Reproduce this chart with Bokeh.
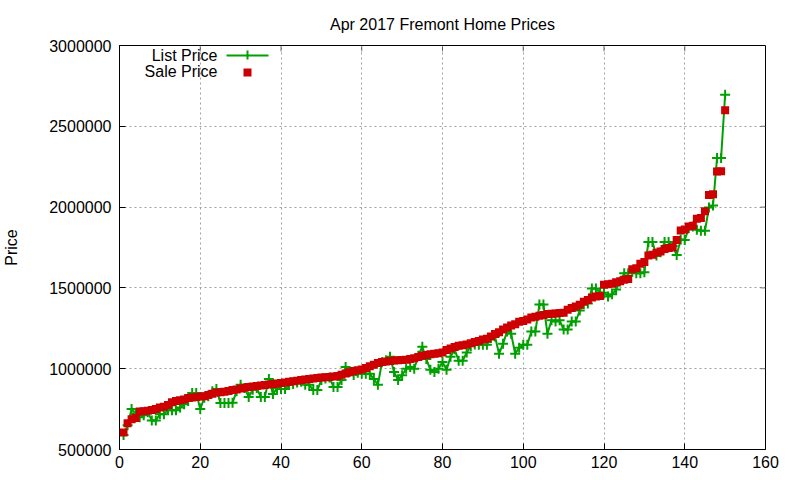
from bokeh.plotting import figure
from bokeh.models import (ColumnDataSource, FixedTicker, Label,
                          BoxAnnotation, Range1d, NumeralTickFormatter)
from bokeh.embed import file_html
from bokeh.resources import INLINE

TITLE = "Apr 2017 Fremont Home Prices"
Y_LABEL = "Price"
SERIES_NAMES = ["List Price", "Sale Price"]
X_TICKS = [0, 20, 40, 60, 80, 100, 120, 140, 160]
Y_TICKS = [500000, 1000000, 1500000, 2000000, 2500000, 3000000]

home_index = list(range(1, 151))

sale_price = [
    605000, 662000, 687000, 695000, 735000, 737000, 740000, 745000, 750000, 760000,
    765000, 775000, 793000, 800000, 805000, 810000, 818000, 822000, 825000, 828000,
    830000, 838000, 845000, 852000, 855000, 858000, 862000, 868000, 872000, 878000,
    882000, 886000, 890000, 893000, 896000, 899000, 902000, 905000, 908000, 911000,
    915000, 920000, 923000, 926000, 930000, 933000, 937000, 940000, 942000, 945000,
    947000, 949000, 952000, 955000, 962000, 970000, 978000, 985000, 990000, 995000,
    1005000, 1015000, 1025000, 1035000, 1042000, 1045000, 1048000, 1050000, 1052000, 1054000,
    1056000, 1060000, 1065000, 1072000, 1080000, 1085000, 1090000, 1092000, 1095000, 1100000,
    1115000, 1125000, 1135000, 1142000, 1145000, 1150000, 1158000, 1165000, 1172000, 1180000,
    1185000, 1200000, 1215000, 1225000, 1242000, 1255000, 1267000, 1275000, 1290000, 1295000,
    1305000, 1317000, 1322000, 1328000, 1332000, 1338000, 1340000, 1342000, 1344000, 1346000,
    1365000, 1375000, 1385000, 1395000, 1415000, 1425000, 1440000, 1447000, 1450000, 1520000,
    1522000, 1525000, 1535000, 1541000, 1550000, 1555000, 1615000, 1622000, 1650000, 1660000,
    1700000, 1705000, 1718000, 1725000, 1740000, 1747000, 1750000, 1797000, 1855000, 1862000,
    1880000, 1885000, 1928000, 1932000, 1975000, 2075000, 2080000, 2220000, 2222000, 2600000,
]

list_price = [
    590000, 650000, 750000, 720000, 700000, 712000, 730000, 680000, 680000, 720000,
    718000, 745000, 743000, 743000, 760000, 780000, 800000, 850000, 850000, 750000,
    820000, 830000, 860000, 874000, 787000, 787000, 787000, 790000, 860000, 900000,
    880000, 825000, 870000, 880000, 825000, 825000, 937000, 843000, 880000, 874000,
    874000, 900000, 905000, 915000, 920000, 900000, 900000, 868000, 868000, 930000,
    940000, 945000, 887000, 887000, 930000, 1011000, 980000, 961000, 975000, 968000,
    968000, 968000, 936000, 900000, 1040000, 1050000, 1074000, 980000, 930000, 960000,
    1000000, 1010000, 1000000, 1080000, 1136000, 1060000, 993000, 980000, 1000000, 1042000,
    993000, 1074000, 1120000, 1049000, 1049000, 1100000, 1140000, 1150000, 1148000, 1148000,
    1148000, 1190000, 1200000, 1092000, 1155000, 1230000, 1217000, 1092000, 1130000, 1148000,
    1148000, 1230000, 1230000, 1397000, 1397000, 1217000, 1300000, 1292000, 1300000, 1242000,
    1242000, 1292000, 1292000, 1360000, 1400000, 1404000, 1497000, 1497000, 1470000, 1470000,
    1447000, 1460000, 1490000, 1540000, 1590000, 1590000, 1600000, 1590000, 1590000, 1597000,
    1784000, 1784000, 1700000, 1720000, 1784000, 1784000, 1760000, 1703000, 1800000, 1797000,
    1870000, 1880000, 1860000, 1853000, 1853000, 1998000, 2010000, 2304000, 2304000, 2695000,
]

GREEN = "#00a000"
RED = "#cc0000"
FONT = "Liberation Sans"
FS = "16px"

FRAME_W = 647
FRAME_H = 404

src = ColumnDataSource(dict(x=home_index, lp=list_price, sp=sale_price))

p = figure(width=792, height=472, output_backend="svg", toolbar_location=None,
           x_range=Range1d(X_TICKS[0], X_TICKS[-1]),
           y_range=Range1d(Y_TICKS[0], Y_TICKS[-1]),
           min_border_left=118, min_border_right=792 - 118 - FRAME_W,
           min_border_top=45, min_border_bottom=472 - 45 - FRAME_H)
p.background_fill_color = "white"
p.border_fill_color = "white"
p.outline_line_color = "black"
p.outline_line_width = 1

p.title.text = TITLE
p.title.align = "center"
p.title.text_font = FONT
p.title.text_font_size = FS
p.title.text_font_style = "normal"
p.title.text_color = "black"
p.title.standoff = 25

for ax in (p.xaxis[0], p.yaxis[0]):
    ax.major_tick_in = 6
    ax.major_tick_out = 0
    ax.minor_tick_line_color = None
    ax.axis_line_color = "black"
    ax.major_tick_line_color = "black"
    ax.major_label_text_font = FONT
    ax.major_label_text_font_size = FS
    ax.major_label_text_color = "black"

p.xaxis[0].ticker = FixedTicker(ticks=X_TICKS)
p.yaxis[0].ticker = FixedTicker(ticks=Y_TICKS)
p.yaxis[0].formatter = NumeralTickFormatter(format="0")
p.xaxis[0].major_label_standoff = 6
p.yaxis[0].major_label_standoff = 8
p.yaxis[0].axis_label = Y_LABEL
p.yaxis[0].axis_label_text_font = FONT
p.yaxis[0].axis_label_text_font_size = FS
p.yaxis[0].axis_label_text_font_style = "normal"
p.yaxis[0].axis_label_text_color = "black"
p.yaxis[0].axis_label_standoff = 26

p.xgrid.ticker = FixedTicker(ticks=X_TICKS)
p.ygrid.ticker = FixedTicker(ticks=Y_TICKS)
for g in (p.xgrid[0], p.ygrid[0]):
    g.grid_line_color = "#a0a0a0"
    g.grid_line_dash = "2 3"
    g.grid_line_width = 1

# mirrored inward ticks on the top and right borders
for t in X_TICKS[1:-1]:
    p.add_layout(BoxAnnotation(left=t, right=t, bottom=FRAME_H - 6, top=FRAME_H,
                               bottom_units="screen", top_units="screen",
                               fill_alpha=0, line_color="black", line_width=1))
for t in Y_TICKS[1:-1]:
    p.add_layout(BoxAnnotation(left=FRAME_W - 6, right=FRAME_W, bottom=t, top=t,
                               left_units="screen", right_units="screen",
                               fill_alpha=0, line_color="black", line_width=1))

p.line("x", "lp", source=src, line_color=GREEN, line_width=2)
p.scatter("x", "lp", source=src, marker="cross", size=10, line_color=GREEN, line_width=2)
p.scatter("x", "sp", source=src, marker="square", size=8, fill_color=RED, line_color=RED, line_width=0)

# legend (text to the left of the sample, as in gnuplot)
p.add_layout(Label(x=98, y=394, x_units="screen", y_units="screen",
                   text=SERIES_NAMES[0], text_align="right", text_baseline="middle",
                   text_font=FONT, text_font_size=FS, text_color="black"))
p.add_layout(Label(x=98, y=378, x_units="screen", y_units="screen",
                   text=SERIES_NAMES[1], text_align="right", text_baseline="middle",
                   text_font=FONT, text_font_size=FS, text_color="black"))
p.add_layout(BoxAnnotation(left=107, right=149, bottom=393, top=395,
                           left_units="screen", right_units="screen",
                           bottom_units="screen", top_units="screen",
                           fill_color=GREEN, fill_alpha=1, line_color=None))
p.add_layout(BoxAnnotation(left=127, right=129, bottom=390, top=399,
                           left_units="screen", right_units="screen",
                           bottom_units="screen", top_units="screen",
                           fill_color=GREEN, fill_alpha=1, line_color=None))
p.add_layout(BoxAnnotation(left=124, right=132, bottom=373, top=381,
                           left_units="screen", right_units="screen",
                           bottom_units="screen", top_units="screen",
                           fill_color=RED, fill_alpha=1, line_color=None))

open("out.html", "w").write(file_html(p, INLINE))
